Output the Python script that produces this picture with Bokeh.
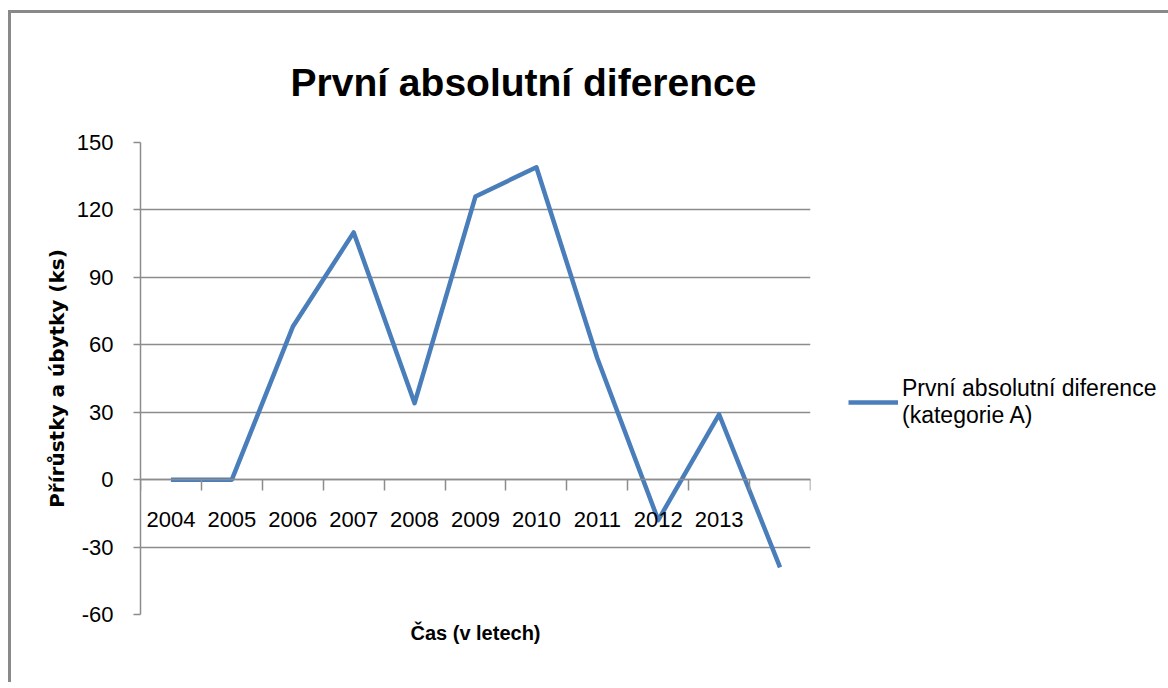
from bokeh.plotting import figure
from bokeh.models import Range1d, LinearAxis, FixedTicker, Legend, LegendItem, Title
from bokeh.embed import file_html
from bokeh.resources import INLINE

# ---- data ----
categories = ["2004", "2005", "2006", "2007", "2008", "2009", "2010", "2011", "2012", "2013", ""]
values = [0, 0, 68, 110, 34, 126, 139, 54, -18, 29, -39]
y_ticks = [-60, -30, 0, 30, 60, 90, 120, 150]
chart_title = "První absolutní diference"
series_name = "První absolutní diference\n(kategorie A)"
x_title = "Čas (v letech)"
y_title = "Přírůstky a úbytky (ks)"

SANS = "Liberation Sans"
GRID = "#8c8c8c"
BLUE = "#4A7EBB"

n = len(categories)
xs = [i + 0.5 for i in range(n)]
bounds = list(range(n + 1))

p = figure(frame_width=670, frame_height=472,
           min_border_left=129, min_border_right=350, min_border_top=129, min_border_bottom=68,
           x_range=Range1d(0, n), y_range=Range1d(y_ticks[0], y_ticks[-1]),
           output_backend="svg", toolbar_location=None,
           x_axis_location=None, y_axis_location="left",
           title=chart_title)
p.margin = (10, 0, 0, 8)
p.outline_line_color = None
p.background_fill_color = "white"
p.border_fill_color = "white"
p.styles = {"border-left": "3px solid #898989", "border-top": "3px solid #898989"}

# title
p.title.align = "left"
p.title.offset = 150
p.title.text_font = SANS
p.title.text_font_size = "39px"
p.title.text_font_style = "bold"
p.title.text_color = "black"
p.title.standoff = 78

# y axis
ya = p.yaxis[0]
ya.ticker = FixedTicker(ticks=y_ticks)
ya.major_label_overrides = {t: str(t) for t in y_ticks}
ya.axis_line_color = GRID
ya.axis_line_width = 1.5
ya.major_tick_line_color = GRID
ya.major_tick_line_width = 1.5
ya.major_tick_out = 7
ya.major_tick_in = 0
ya.minor_tick_line_color = None
ya.major_label_text_font = SANS
ya.major_label_text_font_size = "22px"
ya.major_label_text_color = "black"
ya.major_label_standoff = 20
ya.axis_label = y_title
ya.axis_label_text_font = "DejaVu Sans"
ya.axis_label_text_font_size = "20px"
ya.axis_label_text_font_style = "bold"
ya.axis_label_text_color = "black"
ya.axis_label_standoff = 5

for g in p.xgrid:
    g.visible = False
p.ygrid.ticker = FixedTicker(ticks=y_ticks)
p.ygrid.grid_line_color = GRID
p.ygrid.grid_line_width = 1.5

# x axis crossing at 0
xa = LinearAxis(fixed_location=0,
                ticker=FixedTicker(ticks=xs, minor_ticks=bounds),
                major_label_overrides={x: c for x, c in zip(xs, categories)})
xa.axis_line_color = GRID
xa.axis_line_width = 1.5
xa.major_tick_line_color = None
xa.major_tick_out = 0
xa.major_tick_in = 0
xa.minor_tick_line_color = GRID
xa.minor_tick_line_width = 1.5
xa.minor_tick_out = 11
xa.minor_tick_in = 0
xa.major_label_text_font = SANS
xa.major_label_text_font_size = "22px"
xa.major_label_text_color = "black"
xa.major_label_standoff = 21
p.add_layout(xa, "below")

p.add_layout(Title(text=x_title, align="center", text_font=SANS, text_font_size="20px",
                   text_font_style="bold", text_color="black", standoff=10), "below")

r = p.line(x=xs, y=values, line_color=BLUE, line_width=4.5, line_join="round")

leg = Legend(items=[LegendItem(label=series_name, renderers=[r])],
             location=(38, 185), glyph_width=50, glyph_height=20, label_standoff=4,
             padding=0, margin=0, spacing=0, border_line_color=None, background_fill_alpha=0,
             label_text_font=SANS, label_text_font_size="23px", label_text_color="black")
p.add_layout(leg, "right")

open("out.html", "w").write(file_html(p, INLINE))
